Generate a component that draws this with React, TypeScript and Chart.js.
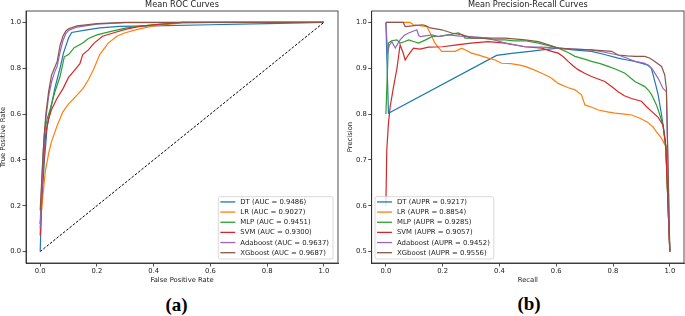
import React, { useEffect, useRef } from 'react';
import { Chart, registerables } from 'chart.js';
Chart.register(...registerables);

const FONT = '"DejaVu Sans", Verdana, sans-serif';
const INK = '#222222';
const COLORS = ['#1f77b4', '#ff7f0e', '#2ca02c', '#d62728', '#9467bd', '#8c564b'];

// ---------- ROC data ----------
const rocTitle = 'Mean ROC Curves';
const rocXTitle = 'False Positive Rate';
const rocYTitle = 'True Positive Rate';
const rocTicksX = [0, 0.2, 0.4, 0.6, 0.8, 1.0];
const rocTicksY = [0, 0.2, 0.4, 0.6, 0.8, 1.0];
const rocLabels = [
  'DT (AUC = 0.9486)',
  'LR (AUC = 0.9027)',
  'MLP (AUC = 0.9451)',
  'SVM (AUC = 0.9300)',
  'Adaboost (AUC = 0.9637)',
  'XGboost (AUC = 0.9687)',
];
const rocDT = [[0, 0], [0.005, 0.2], [0.015, 0.4], [0.025, 0.55], [0.035, 0.61], [0.053, 0.72], [0.07, 0.8], [0.082, 0.866], [0.1, 0.932], [0.111, 0.956], [0.164, 0.968], [0.211, 0.976], [0.28, 0.983], [0.4, 0.985], [0.6, 0.99], [0.8, 0.995], [1, 1]];
const rocLR = [[0, 0.12], [0.005, 0.18], [0.01, 0.25], [0.018, 0.35], [0.03, 0.43], [0.04, 0.48], [0.06, 0.55], [0.08, 0.61], [0.1, 0.645], [0.12, 0.67], [0.15, 0.71], [0.17, 0.75], [0.19, 0.8], [0.21, 0.86], [0.24, 0.91], [0.27, 0.94], [0.3, 0.955], [0.35, 0.972], [0.4, 0.985], [0.5, 0.998], [0.6, 1], [1, 1]];
const rocMLP = [[0, 0.12], [0.005, 0.28], [0.01, 0.42], [0.015, 0.52], [0.025, 0.58], [0.035, 0.62], [0.05, 0.69], [0.07, 0.764], [0.085, 0.85], [0.1, 0.86], [0.12, 0.89], [0.15, 0.91], [0.17, 0.93], [0.2, 0.946], [0.25, 0.961], [0.3, 0.975], [0.36, 0.985], [0.45, 0.995], [0.5, 1], [1, 1]];
const rocSVM = [[0, 0.07], [0.005, 0.22], [0.01, 0.35], [0.015, 0.45], [0.02, 0.52], [0.03, 0.58], [0.04, 0.62], [0.06, 0.67], [0.08, 0.71], [0.1, 0.76], [0.12, 0.79], [0.14, 0.82], [0.15, 0.86], [0.17, 0.88], [0.19, 0.91], [0.22, 0.94], [0.26, 0.955], [0.3, 0.97], [0.35, 0.983], [0.4, 0.99], [0.5, 1], [1, 1]];
const rocAda = [[0, 0.1], [0.005, 0.25], [0.01, 0.38], [0.015, 0.5], [0.02, 0.58], [0.03, 0.68], [0.04, 0.74], [0.05, 0.78], [0.06, 0.81], [0.07, 0.87], [0.08, 0.92], [0.09, 0.95], [0.1, 0.965], [0.13, 0.98], [0.2, 0.993], [0.3, 0.999], [1, 1]];
const rocXG = [[0, 0.18], [0.005, 0.3], [0.01, 0.42], [0.015, 0.52], [0.02, 0.6], [0.03, 0.7], [0.04, 0.77], [0.05, 0.8], [0.06, 0.83], [0.07, 0.9], [0.08, 0.94], [0.09, 0.962], [0.1, 0.972], [0.13, 0.985], [0.2, 0.995], [0.3, 1], [1, 1]];
const rocChance = [[0, 0], [1, 1]];

// ---------- PR data ----------
const prTitle = 'Mean Precision-Recall Curves';
const prXTitle = 'Recall';
const prYTitle = 'Precision';
const prTicksX = [0, 0.2, 0.4, 0.6, 0.8, 1.0];
const prTicksY = [0.5, 0.6, 0.7, 0.8, 0.9, 1.0];
const prLabels = [
  'DT (AUPR = 0.9217)',
  'LR (AUPR = 0.8854)',
  'MLP (AUPR = 0.9285)',
  'SVM (AUPR = 0.9057)',
  'Adaboost (AUPR = 0.9452)',
  'XGboost (AUPR = 0.9556)',
];
const prDT = [[0, 1.0], [0.009, 0.802], [0.39, 0.928], [0.45, 0.933], [0.508, 0.937], [0.55, 0.94], [0.607, 0.944], [0.66, 0.94], [0.724, 0.937], [0.77, 0.93], [0.818, 0.922], [0.85, 0.918], [0.877, 0.915], [0.924, 0.907], [0.935, 0.9], [0.941, 0.886], [0.95, 0.865], [0.959, 0.842], [0.971, 0.798], [0.98, 0.76], [0.986, 0.729], [1.0, 0.5]];
const prLR = [[0, 1.0], [0.085, 1.0], [0.097, 0.995], [0.144, 0.991], [0.156, 0.977], [0.165, 0.965], [0.173, 0.955], [0.185, 0.945], [0.197, 0.937], [0.244, 0.937], [0.267, 0.944], [0.28, 0.94], [0.302, 0.933], [0.33, 0.928], [0.361, 0.922], [0.385, 0.918], [0.408, 0.911], [0.44, 0.91], [0.472, 0.907], [0.49, 0.904], [0.52, 0.897], [0.549, 0.889], [0.58, 0.88], [0.607, 0.867], [0.64, 0.858], [0.666, 0.853], [0.689, 0.842], [0.701, 0.82], [0.725, 0.815], [0.748, 0.809], [0.78, 0.805], [0.807, 0.802], [0.84, 0.8], [0.865, 0.798], [0.895, 0.791], [0.92, 0.783], [0.941, 0.772], [0.953, 0.761], [0.971, 0.747], [0.986, 0.729], [1.0, 0.5]];
const prMLP = [[0, 0.8], [0.009, 0.955], [0.02, 0.96], [0.039, 0.962], [0.05, 0.955], [0.065, 0.958], [0.08, 0.962], [0.1, 0.958], [0.115, 0.955], [0.14, 0.962], [0.162, 0.969], [0.19, 0.97], [0.22, 0.973], [0.255, 0.977], [0.27, 0.972], [0.279, 0.966], [0.31, 0.966], [0.338, 0.966], [0.384, 0.962], [0.42, 0.962], [0.45, 0.96], [0.49, 0.96], [0.537, 0.955], [0.57, 0.95], [0.607, 0.944], [0.64, 0.935], [0.666, 0.926], [0.7, 0.92], [0.724, 0.915], [0.755, 0.91], [0.783, 0.904], [0.81, 0.898], [0.842, 0.889], [0.86, 0.88], [0.877, 0.871], [0.912, 0.86], [0.925, 0.852], [0.936, 0.842], [0.953, 0.82], [0.965, 0.798], [0.976, 0.776], [0.986, 0.729], [1.0, 0.5]];
const prSVM = [[0, 0.6], [0.003, 0.72], [0.009, 0.78], [0.015, 0.816], [0.027, 0.86], [0.039, 0.9], [0.05, 0.951], [0.06, 0.935], [0.068, 0.918], [0.08, 0.93], [0.097, 0.944], [0.12, 0.942], [0.15, 0.946], [0.2, 0.947], [0.25, 0.951], [0.3, 0.955], [0.36, 0.958], [0.42, 0.955], [0.49, 0.947], [0.549, 0.944], [0.584, 0.937], [0.607, 0.933], [0.625, 0.925], [0.642, 0.915], [0.66, 0.905], [0.677, 0.897], [0.7, 0.889], [0.724, 0.882], [0.75, 0.876], [0.771, 0.871], [0.795, 0.86], [0.818, 0.849], [0.84, 0.84], [0.865, 0.834], [0.9, 0.828], [0.92, 0.815], [0.936, 0.806], [0.959, 0.793], [0.976, 0.776], [0.986, 0.729], [1.0, 0.5]];
const prAda = [[0, 1.0], [0.006, 0.933], [0.012, 0.95], [0.021, 0.958], [0.033, 0.944], [0.05, 0.962], [0.065, 0.972], [0.08, 0.977], [0.109, 0.984], [0.115, 0.972], [0.121, 0.969], [0.162, 0.973], [0.185, 0.969], [0.22, 0.973], [0.26, 0.97], [0.302, 0.969], [0.361, 0.966], [0.42, 0.955], [0.49, 0.947], [0.55, 0.946], [0.607, 0.944], [0.66, 0.942], [0.724, 0.94], [0.77, 0.935], [0.818, 0.929], [0.85, 0.922], [0.877, 0.915], [0.912, 0.911], [0.936, 0.9], [0.959, 0.878], [0.976, 0.856], [0.988, 0.849], [1.0, 0.5]];
const prXG = [[0, 1.0], [0.061, 1.0], [0.068, 0.991], [0.1, 0.993], [0.127, 0.995], [0.14, 0.993], [0.156, 0.988], [0.197, 0.984], [0.232, 0.977], [0.27, 0.973], [0.302, 0.966], [0.361, 0.966], [0.42, 0.966], [0.49, 0.962], [0.537, 0.958], [0.57, 0.952], [0.607, 0.944], [0.66, 0.942], [0.724, 0.94], [0.795, 0.937], [0.818, 0.929], [0.85, 0.927], [0.877, 0.926], [0.912, 0.926], [0.93, 0.922], [0.947, 0.915], [0.971, 0.904], [0.982, 0.886], [0.988, 0.856], [1.0, 0.5]];

const rocSeries = [rocDT, rocLR, rocMLP, rocSVM, rocAda, rocXG];
const prSeries = [prDT, prLR, prMLP, prSVM, prAda, prXG];

const framePlugin = {
  id: 'frame',
  afterDatasetsDraw(chart: any, _args: any, opts: any) {
    const { ctx, chartArea: a } = chart;
    ctx.save();
    // full axes frame
    ctx.strokeStyle = INK;
    ctx.lineWidth = 0.8;
    ctx.strokeRect(a.left, a.top, a.right - a.left, a.bottom - a.top);
    // title
    ctx.fillStyle = INK;
    ctx.font = `8.2px ${FONT}`;
    ctx.textAlign = 'center';
    ctx.textBaseline = 'middle';
    ctx.fillText(opts.title, (a.left + a.right) / 2, 5);
    // legend
    const labels: string[] = opts.labels;
    ctx.font = `6.9px ${FONT}`;
    const rowH = 10.15;
    const maxW = Math.max(...labels.map((l) => ctx.measureText(l).width));
    const w = 22 + maxW + 4;
    const h = 5.3 + 5 * rowH + 6.3;
    const x0 = opts.side === 'right' ? a.right - 5 - w : a.left + 3.3;
    const y0 = a.bottom - 4 - h;
    ctx.beginPath();
    if ((ctx as any).roundRect) (ctx as any).roundRect(x0, y0, w, h, 2);
    else ctx.rect(x0, y0, w, h);
    ctx.fillStyle = 'rgba(255,255,255,0.8)';
    ctx.fill();
    ctx.strokeStyle = '#d0d0d0';
    ctx.lineWidth = 0.8;
    ctx.stroke();
    ctx.textAlign = 'left';
    ctx.textBaseline = 'middle';
    labels.forEach((l, i) => {
      const y = y0 + 5.3 + i * rowH;
      ctx.strokeStyle = COLORS[i];
      ctx.lineWidth = 1.3;
      ctx.beginPath();
      ctx.moveTo(x0 + 2, y);
      ctx.lineTo(x0 + 17, y);
      ctx.stroke();
      ctx.fillStyle = INK;
      ctx.fillText(l, x0 + 22, y + 0.3);
    });
    ctx.restore();
  },
};

function axis(ticks: number[], min: number, max: number, title: string, isX: boolean, size: number, titlePad: any) {
  return {
    type: 'linear',
    position: isX ? 'bottom' : 'left',
    min,
    max,
    afterBuildTicks: (scale: any) => {
      scale.ticks = ticks.map((v) => ({ value: v }));
    },
    afterFit: (scale: any) => {
      if (isX) scale.height = size;
      else scale.width = size;
    },
    grid: {
      display: true,
      drawOnChartArea: false,
      drawTicks: true,
      tickLength: 3.5,
      tickColor: INK,
      tickWidth: 0.8,
    },
    border: { display: true, color: INK, width: 0.8 },
    ticks: {
      autoSkip: false,
      maxRotation: 0,
      padding: 1.5,
      color: INK,
      font: { family: FONT, size: 6.8, lineHeight: 1 },
      callback: (v: any) => Number(v).toFixed(1),
    },
    title: {
      display: true,
      text: title,
      color: INK,
      font: { family: FONT, size: 6.8, lineHeight: 1 },
      padding: titlePad,
    },
  };
}

type PanelProps = {
  series: number[][][];
  labels: string[];
  chance?: number[][];
  title: string;
  xTitle: string;
  yTitle: string;
  xTicks: number[];
  yTicks: number[];
  yMin: number;
  yMax: number;
  yAxisWidth: number;
  padRight: number;
  yTitlePadTop: number;
  side: 'left' | 'right';
  width: number;
  height: number;
};

function Panel(p: PanelProps) {
  const ref = useRef<HTMLCanvasElement>(null);
  useEffect(() => {
    if (!ref.current) return;
    const n = p.series.length;
    const datasets: any[] = p.series.map((s, i) => ({
      label: p.labels[i],
      data: s.map(([x, y]) => ({ x, y })),
      showLine: true,
      borderColor: COLORS[i],
      backgroundColor: COLORS[i],
      borderWidth: 1.2,
      pointRadius: 0,
      tension: 0,
      fill: false,
      order: n - i + 1,
    }));
    if (p.chance) {
      datasets.push({
        label: 'chance',
        data: p.chance.map(([x, y]) => ({ x, y })),
        showLine: true,
        borderColor: '#000000',
        borderWidth: 1,
        borderDash: [2.6, 1.6],
        pointRadius: 0,
        fill: false,
        order: 100,
      });
    }
    const chart = new Chart(ref.current, {
      type: 'scatter',
      data: { datasets },
      plugins: [framePlugin as any],
      options: {
        responsive: false,
        animation: false,
        devicePixelRatio: 1,
        layout: { padding: { left: 0, top: 11, right: p.padRight, bottom: 0 } },
        plugins: {
          legend: { display: false },
          tooltip: { enabled: false },
          title: { display: false },
          frame: { title: p.title, labels: p.labels, side: p.side },
        } as any,
        scales: {
          x: axis(p.xTicks, -0.05, 1.05, p.xTitle, true, 27, { top: 0, bottom: 6.6 }) as any,
          y: axis(p.yTicks, p.yMin, p.yMax, p.yTitle, false, p.yAxisWidth, { top: p.yTitlePadTop, bottom: 0 }) as any,
        },
      },
    });
    return () => chart.destroy();
  }, []);
  return <canvas ref={ref} width={p.width} height={p.height} style={{ width: p.width, height: p.height, display: 'block' }} />;
}

const labelStyle: React.CSSProperties = {
  position: 'absolute',
  fontFamily: '"Liberation Serif", "Times New Roman", serif',
  fontWeight: 'bold',
  fontSize: 19,
  lineHeight: '20px',
  color: '#000',
  transform: 'translate(-50%, -50%)',
  whiteSpace: 'nowrap',
};

export default function App() {
  return (
    <div style={{ position: 'fixed', left: 0, top: 0, width: 685, height: 316, background: '#fff', overflow: 'hidden' }}>
      <div style={{ position: 'absolute', left: 0, top: 0 }}>
        <Panel
          series={rocSeries}
          labels={rocLabels}
          chance={rocChance}
          title={rocTitle}
          xTitle={rocXTitle}
          yTitle={rocYTitle}
          xTicks={rocTicksX}
          yTicks={rocTicksY}
          yMin={-0.05}
          yMax={1.05}
          yAxisWidth={26}
          padRight={4}
          yTitlePadTop={0}
          side="right"
          width={342}
          height={290}
        />
      </div>
      <div style={{ position: 'absolute', left: 342, top: 0 }}>
        <Panel
          series={prSeries}
          labels={prLabels}
          title={prTitle}
          xTitle={prXTitle}
          yTitle={prYTitle}
          xTicks={prTicksX}
          yTicks={prTicksY}
          yMin={0.475}
          yMax={1.025}
          yAxisWidth={29.7}
          padRight={1}
          yTitlePadTop={4.9}
          side="left"
          width={343}
          height={290}
        />
      </div>
      <div style={{ ...labelStyle, left: 176.5, top: 305 }}>(a)</div>
      <div style={{ ...labelStyle, left: 529, top: 304 }}>(b)</div>
    </div>
  );
}
